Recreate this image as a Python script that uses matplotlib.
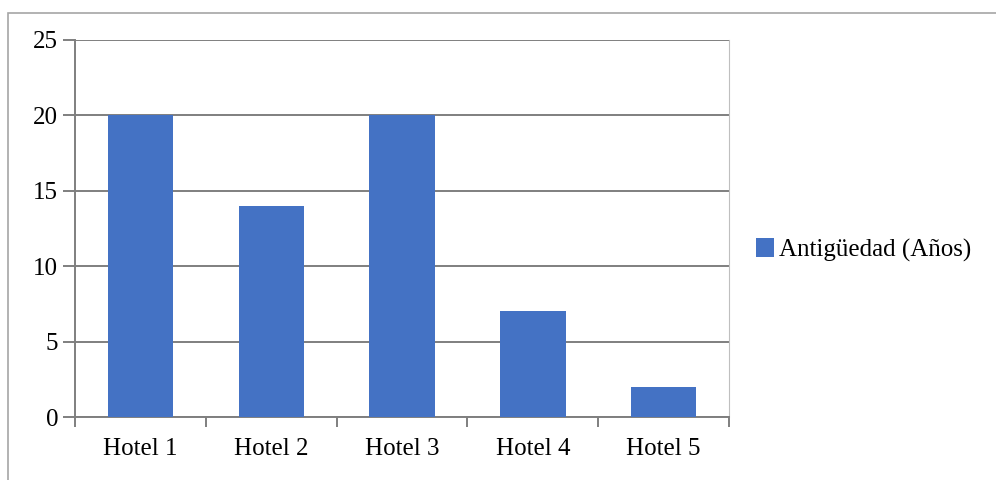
import matplotlib.pyplot as plt
from matplotlib.patches import Rectangle

hotels = ["Hotel 1", "Hotel 2", "Hotel 3", "Hotel 4", "Hotel 5"]
antiguedad = [20, 14, 20, 7, 2]
series_label = "Antigüedad (Años)"

plt.rcParams["font.family"] = ["Liberation Serif", "DejaVu Serif"]

fig = plt.figure(figsize=(9.96, 4.8), dpi=100)
ax = fig.add_axes([75 / 996, 1 - 417 / 480, 654 / 996, 377 / 480])

# outer chart frame (cut off at right and bottom like the reference)
fig.patches.append(Rectangle((8 / 996, -0.1), 1.1, 1 - 13 / 480 + 0.1,
                             transform=fig.transFigure, fill=False,
                             edgecolor="#a6a6a6", linewidth=1.2))

x = range(len(hotels))
ax.bar(x, antiguedad, width=0.5, color="#4472C4", label=series_label, zorder=3)

ax.set_xlim(-0.5, len(hotels) - 0.5)
ax.set_ylim(0, 25)
ax.set_yticks(range(0, 26, 5))
ax.set_xticks(list(x))
ax.set_xticklabels(hotels)
ax.set_xticks([i - 0.5 for i in range(len(hotels) + 1)], minor=True)

ax.grid(axis="y", color="#7f7f7f", linewidth=1.4, zorder=0)
ax.tick_params(axis="x", which="major", length=0, labelsize=18, pad=15)
ax.tick_params(axis="x", which="minor", length=7, direction="out", color="#7f7f7f", width=1.4)
ax.tick_params(axis="y", length=9, direction="out", color="#7f7f7f", width=1.4,
               labelsize=18, pad=3)

ax.spines["top"].set_visible(False)
ax.spines["right"].set_color("#bfbfbf")
for s in ["left", "bottom"]:
    ax.spines[s].set_color("#7f7f7f")
    ax.spines[s].set_linewidth(1.4)

fig.legend(loc="center left", bbox_to_anchor=(733 / 996, 1 - 250 / 480),
           frameon=False, fontsize=18, handlelength=0.75, handleheight=0.75,
           handletextpad=0.2)

fig.savefig("out.png", dpi=100)
